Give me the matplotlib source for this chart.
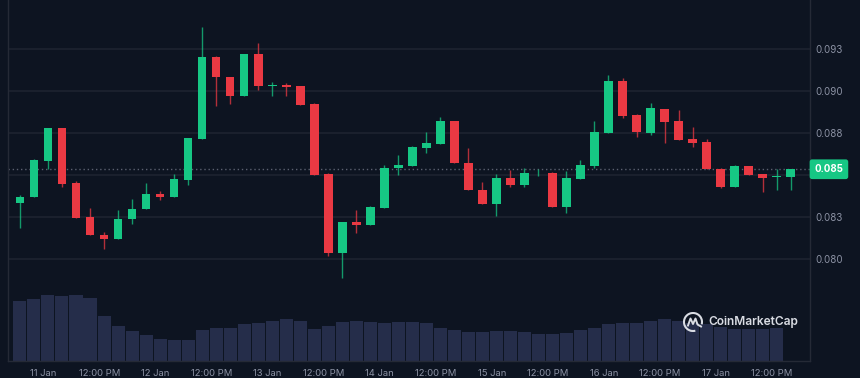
import numpy as np
import pandas as pd
import matplotlib
matplotlib.use("Agg")
import matplotlib.pyplot as plt
import matplotlib.dates as mdates
from matplotlib.patches import Arc

plt.rcParams['font.family'] = ['Inter', 'DejaVu Sans']

W, H = 860, 378
BG = '#0d1421'
GRID = '#1f2431'
SPINE = '#252a36'
UP = '#16c784'
DOWN = '#ea3943'
VOLC = '#252d4a'
TXT = '#8c92a4'

# ---- data (3-hour candles) ----
times = pd.date_range('2025-01-10 19:00', periods=56, freq='3h')

opens = [0.08337, 0.08371, 0.08585, 0.08783, 0.08452, 0.08252, 0.08145, 0.08119, 0.08240, 0.08298,
         0.08390, 0.08371, 0.08474, 0.08718, 0.09202, 0.09085, 0.08970, 0.09222, 0.09030, 0.09038,
         0.09032, 0.08924, 0.08506, 0.08036, 0.08224, 0.08206, 0.08307, 0.08543, 0.08557, 0.08664,
         0.08688, 0.08823, 0.08573, 0.08413, 0.08327, 0.08482, 0.08444, 0.08511, 0.08515, 0.08311,
         0.08478, 0.08555, 0.08750, 0.09061, 0.08857, 0.08754, 0.08893, 0.08823, 0.08716, 0.08696,
         0.08539, 0.08429, 0.08555, 0.08506, 0.08490, 0.08492]

closes = [0.08373, 0.08589, 0.08783, 0.08450, 0.08244, 0.08143, 0.08119, 0.08242, 0.08299, 0.08389,
          0.08371, 0.08476, 0.08720, 0.09202, 0.09083, 0.08970, 0.09222, 0.09030, 0.09038, 0.09027,
          0.08920, 0.08502, 0.08036, 0.08224, 0.08206, 0.08311, 0.08545, 0.08560, 0.08667, 0.08690,
          0.08823, 0.08571, 0.08411, 0.08327, 0.08482, 0.08444, 0.08515, 0.08514, 0.08311, 0.08482,
          0.08560, 0.08756, 0.09061, 0.08853, 0.08756, 0.08901, 0.08819, 0.08712, 0.08692, 0.08536,
          0.08429, 0.08555, 0.08502, 0.08484, 0.08498, 0.08536]

highs = [0.08385, 0.08597, 0.08783, 0.08783, 0.08466, 0.08305, 0.08161, 0.08292, 0.08359, 0.08454,
         0.08405, 0.08508, 0.08720, 0.09385, 0.09212, 0.09085, 0.09222, 0.09286, 0.09055, 0.09048,
         0.09032, 0.08929, 0.08514, 0.08224, 0.08292, 0.08317, 0.08560, 0.08623, 0.08673, 0.08758,
         0.08845, 0.08823, 0.08663, 0.08458, 0.08508, 0.08533, 0.08542, 0.08537, 0.08521, 0.08526,
         0.08591, 0.08823, 0.09097, 0.09079, 0.08867, 0.08930, 0.08893, 0.08887, 0.08788, 0.08716,
         0.08543, 0.08560, 0.08555, 0.08508, 0.08536, 0.08536]

lows = [0.08185, 0.08371, 0.08537, 0.08430, 0.08244, 0.08143, 0.08060, 0.08119, 0.08210, 0.08298,
        0.08355, 0.08371, 0.08444, 0.08718, 0.08914, 0.08926, 0.08970, 0.09010, 0.08974, 0.08974,
        0.08920, 0.08502, 0.08021, 0.07890, 0.08158, 0.08206, 0.08307, 0.08502, 0.08557, 0.08635,
        0.08685, 0.08571, 0.08411, 0.08327, 0.08258, 0.08432, 0.08432, 0.08498, 0.08311, 0.08277,
        0.08478, 0.08545, 0.08750, 0.08841, 0.08730, 0.08742, 0.08692, 0.08712, 0.08670, 0.08536,
        0.08424, 0.08429, 0.08502, 0.08402, 0.08413, 0.08413]

volumes = [60, 62.4, 66, 65.4, 66, 63.4, 45.4, 34.7, 29.7, 26.4, 22.4, 20.7, 20.7, 31.4, 33.4,
           33.4, 36.7, 38.4, 40.4, 42, 40.4, 32.4, 34.7, 39, 39.7, 39, 38.4, 39, 39, 38.4,
           33.4, 31.4, 29, 29, 29.7, 29.7, 29, 27.4, 27.4, 28.4, 30.7, 33.4, 36.7, 38.4, 38.4,
           40.4, 42, 39.7, 38.4, 36.7, 34, 32.4, 32.4, 32.4, 33]

ytick_vals = [0.0800, 0.0825, 0.0850, 0.0875, 0.0900, 0.0925]
ytick_labels = ['0.080', '0.083', '0.085', '0.088', '0.090', '0.093']
xtick_times = pd.date_range('2025-01-11 00:00', periods=14, freq='12h')
xtick_labels = ['11 Jan', '12:00 PM', '12 Jan', '12:00 PM', '13 Jan', '12:00 PM', '14 Jan',
                '12:00 PM', '15 Jan', '12:00 PM', '16 Jan', '12:00 PM', '17 Jan', '12:00 PM']
last_price = 0.08536
last_label = '0.085'

# ---- figure ----
fig = plt.figure(figsize=(W / 100, H / 100), dpi=100, facecolor=BG)
rect = [8 / W, 1 - 361 / H, (810 - 8) / W, 361 / H]
axv = fig.add_axes(rect)
axv.set_facecolor(BG)
ax = fig.add_axes(rect, sharex=axv)
ax.patch.set_visible(False)

x = mdates.date2num(times)
o = np.array(opens); c = np.array(closes); hi = np.array(highs); lo = np.array(lows)
up = c >= o
cols = np.where(up, UP, DOWN)

# volume
axv.bar(x[:len(volumes)], volumes, width=2.79 / 24, color=VOLC, linewidth=0, zorder=2)
axv.set_ylim(0, 361)
axv.set_yticks([])
axv.tick_params(axis='x', length=0, labelbottom=False)
for s in axv.spines.values():
    s.set_visible(False)

# candles
ax.vlines(x, lo, hi, colors=cols, linewidth=1.0, alpha=0.75, zorder=3)
body_bottom = np.minimum(o, c)
body_h = np.maximum(np.abs(c - o), 0.00004)
ax.bar(x, body_h, bottom=body_bottom, width=1.86 / 24, color=cols, linewidth=0, zorder=4)

# axes styling
x0 = mdates.date2num(pd.Timestamp('2025-01-11 00:00'))
ax.set_xlim(x0 - 7.557 / 24, x0 + 164.14 / 24)
ax.set_ylim(0.0739464, 0.0954345)
for yv in ytick_vals:
    ax.axhline(yv, color=GRID, linewidth=1.1, zorder=1)
ax.axhline(last_price, color='#5b6070', linewidth=1.0, linestyle=(0, (1, 2)), zorder=2)

ax.yaxis.tick_right()
ax.set_yticks(ytick_vals, ytick_labels)
ax.set_xticks(mdates.date2num(xtick_times), xtick_labels)
ax.tick_params(axis='y', length=0, pad=4, labelsize=7, labelcolor=TXT)
ax.tick_params(axis='x', length=0, pad=6, labelsize=6.8, labelcolor=TXT)
ax.spines['top'].set_visible(False)
for side in ['left', 'right', 'bottom']:
    ax.spines[side].set_color(SPINE)
    ax.spines[side].set_linewidth(1.0)

# the current-price badge covers the tick label at the same level (as in the original)
for lbl, yv in zip(ax.get_yticklabels(), ytick_vals):
    if abs(yv - last_price) < 0.0008:
        lbl.set_visible(False)

# current price label
ax.annotate(last_label, xy=(1, last_price), xycoords=('axes fraction', 'data'),
            xytext=(4.5, 0), textcoords='offset pixels', ha='left', va='center',
            fontsize=7, fontweight='bold', color='white',
            bbox=dict(boxstyle='round,pad=0.5,rounding_size=0.25', fc=UP, ec='none'),
            annotation_clip=False, zorder=6)

# watermark logo
lax = fig.add_axes([683 / W, 1 - 332 / H, 20 / W, 20 / H])
lax.set_xlim(-1, 1); lax.set_ylim(-1, 1); lax.axis('off')
lax.add_patch(Arc((0, 0), 1.8, 1.8, theta1=-15, theta2=285, color='#d9dce3', lw=1.5))
lax.plot([-0.5, -0.25, 0.0, 0.25, 0.45, 0.8], [-0.35, 0.35, -0.2, 0.35, -0.25, -0.45],
         color='#d9dce3', lw=1.4, solid_joinstyle='round')
fig.text(708 / W, 1 - 322 / H, 'CoinMarketCap', ha='left', va='center',
         fontsize=8.6, fontweight='semibold', color='#d9dce3')

fig.savefig('out.png', dpi=100, facecolor=BG)
